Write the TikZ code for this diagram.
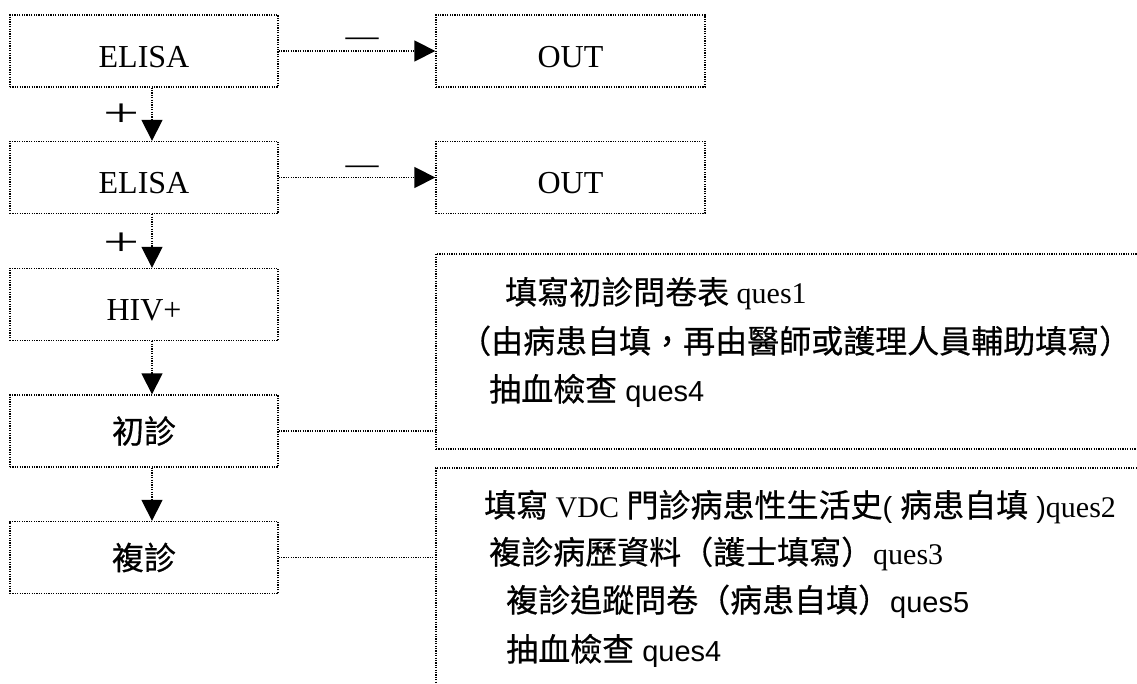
\documentclass[tikz,border=0pt]{standalone}
\usepackage{fontspec}
\setmainfont{Liberation Serif}
\newfontfamily\cjkfont[FakeBold=0.5]{Noto Sans CJK TC}
\newfontfamily\arialfont{Liberation Sans}
\usetikzlibrary{arrows.meta}
\newcommand\zhtxt[1]{{\cjkfont\fontsize{32}{38}\selectfont #1}}
\newcommand\sftxt[1]{{\arialfont\fontsize{29}{35}\selectfont #1}}
\begin{document}
\begin{tikzpicture}[x=1pt,y=-1pt,
  dotline/.style={line width=1.3pt, dash pattern=on 1.2pt off 1.2pt},
  lbox/.style={draw, dotline, minimum width=268pt, minimum height=72pt, inner sep=0pt, font=\fontsize{32}{38}\selectfont},
  latintext/.style={text height=33pt, text depth=0pt},
  bigbox/.style={draw, dotline, inner sep=0pt},
  arr/.style={dotline, -{Triangle[length=21pt,width=21pt]}},
  conn/.style={dotline},
  rline/.style={anchor=west, inner sep=0pt, text height=28pt, text depth=4pt, font=\fontsize{30}{36}\selectfont},
  plusl/.style={inner sep=0pt, font=\fontsize{40}{40}\selectfont, xscale=1.6},
  minusl/.style={inner sep=0pt, font=\fontsize{33}{33}\selectfont}
]
\useasboundingbox (0,0) rectangle (1137,684);
\clip (0,0) rectangle (1137,684);

% left column
\node[lbox, latintext] (e1) at (144,51) {ELISA};
\node[lbox, latintext] (e2) at (144,177.5) {ELISA};
\node[lbox, latintext] (hiv) at (144,304.5) {HIV+};
\node[lbox] (chu) at (144,431) {\zhtxt{初診}};
\node[lbox] (fu) at (144,557.5) {\zhtxt{複診}};

% OUT boxes
\node[lbox, latintext, minimum width=269pt] (o1) at (570.5,51) {OUT};
\node[lbox, latintext, minimum width=269pt] (o2) at (570.5,177.5) {OUT};

% right boxes (clipped at the right / bottom edge)
\node[bigbox, minimum width=740pt, minimum height=195pt] (ba) at (806,351.5) {};
\node[bigbox, minimum width=740pt, minimum height=260pt] (bb) at (806,598) {};

% arrows
\draw[arr] (e1.east) -- (o1.west);
\draw[arr] (e2.east) -- (o2.west);
\draw[arr] ([xshift=8pt]e1.south) -- ([xshift=8pt]e2.north);
\draw[arr] ([xshift=8pt]e2.south) -- ([xshift=8pt]hiv.north);
\draw[arr] ([xshift=8pt]hiv.south) -- ([xshift=8pt]chu.north);
\draw[arr] ([xshift=8pt]chu.south) -- ([xshift=8pt]fu.north);
\draw[conn] (chu.east) -- (chu.east -| ba.west);
\draw[conn] (fu.east) -- (fu.east -| bb.west);

% labels
\node[minusl] (m1) at (362,42) {—};
\node[minusl] (m2) at (362,170) {—};
\node[plusl] (p1) at (122,115) {+};
\node[plusl] (p2) at (122,244) {+};

% box A text
\node[rline] (a1) at (505,292) {\zhtxt{填寫初診問卷表} ques1};
\node[rline] (a2) at (459,341) {\zhtxt{（由病患自填，再由醫師或護理人員輔助填寫）}};
\node[rline] (a3) at (489,389) {\zhtxt{抽血檢查}\sftxt{ ques4}};

% box B text
\node[rline] (b1) at (484,505) {\zhtxt{填寫} VDC \zhtxt{門診病患性生活史}\sftxt{( }\zhtxt{病患自填}\sftxt{ )}ques2};
\node[rline] (b2) at (489,552) {\zhtxt{複診病歷資料（護士填寫）}ques3};
\node[rline] (b3) at (506,600) {\zhtxt{複診追蹤問卷（病患自填）}\sftxt{ques5}};
\node[rline] (b4) at (506,649) {\zhtxt{抽血檢查}\sftxt{ ques4}};
\end{tikzpicture}
\end{document}
